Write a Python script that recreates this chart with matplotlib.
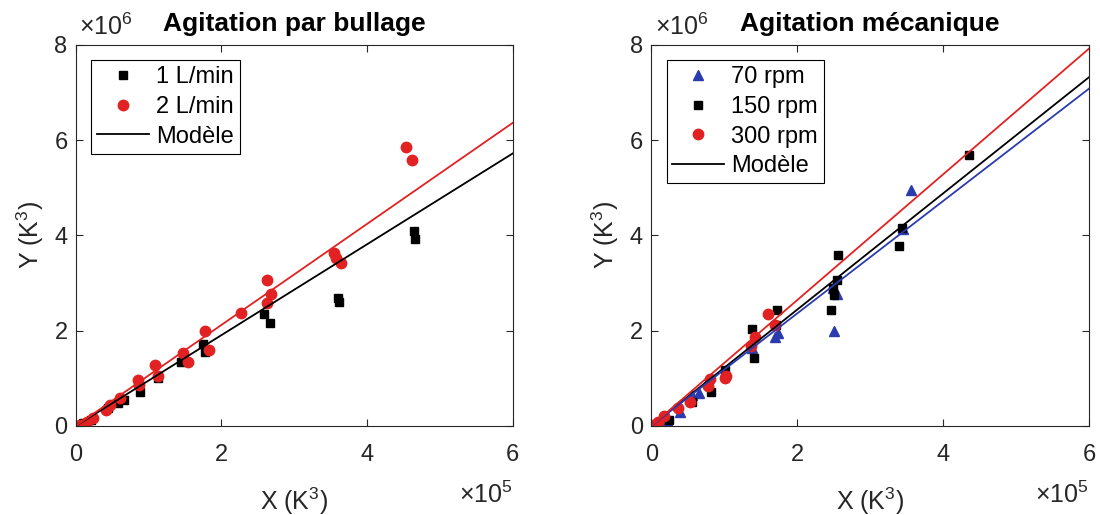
import matplotlib
matplotlib.use('Agg')
import matplotlib.pyplot as plt
import numpy as np

plt.rcParams['font.family'] = ['Liberation Sans', 'DejaVu Sans']
plt.rcParams['mathtext.fontset'] = 'custom'
plt.rcParams['mathtext.rm'] = 'Liberation Sans'
plt.rcParams['mathtext.it'] = 'Liberation Sans:italic'

# Données (X en 1e5 K^3, Y en 1e6 K^3)
# Agitation par bullage
x_1l = [4.65, 4.66, 3.60, 3.62, 2.59, 2.67, 1.75, 1.77, 1.47, 1.45, 1.13, 0.88,
        0.66, 0.58, 0.44, 0.21, 0.10, 0.03]
y_1l = [4.09, 3.92, 2.69, 2.60, 2.34, 2.15, 1.71, 1.56, 1.49, 1.35, 1.00, 0.72,
        0.55, 0.49, 0.37, 0.13, 0.06, 0.01]
x_2l = [4.53, 4.62, 3.54, 3.58, 3.64, 2.62, 2.68, 2.62, 2.27, 1.77, 1.83, 1.47,
        1.54, 1.08, 1.13, 0.86, 0.87, 0.60, 0.47, 0.42, 0.24, 0.15, 0.05]
y_2l = [5.86, 5.58, 3.64, 3.53, 3.42, 3.06, 2.76, 2.58, 2.36, 2.00, 1.60, 1.53,
        1.35, 1.28, 1.04, 0.97, 0.86, 0.58, 0.44, 0.34, 0.16, 0.09, 0.02]
pente_1l = 9.53
pente_2l = 10.6

# Agitation mécanique
x_70 = [3.56, 3.45, 2.50, 2.54, 2.49, 1.69, 1.74, 1.38, 1.01, 0.65, 0.56, 0.40,
        0.21, 0.10]
y_70 = [4.95, 4.13, 2.00, 2.76, 2.90, 1.86, 1.95, 1.64, 1.14, 0.69, 0.65, 0.30,
        0.13, 0.06]
x_150 = [4.36, 3.44, 3.39, 2.56, 2.55, 2.49, 2.51, 2.47, 1.73, 1.71, 1.38, 1.41,
         1.01, 0.82, 0.56, 0.24, 0.05]
y_150 = [5.69, 4.16, 3.78, 3.58, 3.07, 2.90, 2.74, 2.43, 2.43, 2.11, 2.04, 1.42,
         1.18, 0.72, 0.51, 0.13, 0.02]
x_300 = [1.60, 1.69, 1.42, 1.37, 1.03, 1.01, 0.81, 0.78, 0.53, 0.37, 0.17, 0.10, 0.03]
y_300 = [2.35, 2.11, 1.86, 1.68, 1.04, 1.00, 0.98, 0.83, 0.51, 0.37, 0.20, 0.09, 0.02]
pente_70 = 11.8
pente_150 = 12.2
pente_300 = 13.2

rouge = '#E22222'
bleu = '#2B3BAE'
gris = '#262626'

fig = plt.figure(figsize=(11, 5.15), dpi=100)
ax1 = fig.add_axes([0.069, 0.173, 0.397, 0.740])
ax2 = fig.add_axes([0.592, 0.173, 0.398, 0.740])

xfit = np.linspace(0, 6e5, 2)


def habillage(ax, titre):
    ax.set_xlim(0, 6e5)
    ax.set_ylim(0, 8e6)
    ax.set_xticks([0, 2e5, 4e5, 6e5])
    ax.set_xticklabels(['0', '2', '4', '6'])
    ax.set_yticks([0, 2e6, 4e6, 6e6, 8e6])
    ax.set_yticklabels(['0', '2', '4', '6', '8'])
    ax.tick_params(direction='in', top=True, right=True, labelsize=17, length=5,
                   width=0.8, colors=gris)
    ax.tick_params(axis='x', pad=13)
    ax.tick_params(axis='y', pad=6)
    for s in ax.spines.values():
        s.set_color(gris)
        s.set_linewidth(0.8)
    ax.set_xlabel('X (K$^3$)', fontsize=18, color=gris, labelpad=14)
    ax.set_ylabel('Y (K$^3$)', fontsize=18, color=gris, labelpad=6)
    ax.set_title(titre, fontsize=19, fontweight='bold', pad=10)
    ax.text(0.008, 1.012, r'$\times10^6$', transform=ax.transAxes, fontsize=18,
            color=gris, ha='left', va='bottom')
    ax.text(1.0, -0.202, r'$\times10^5$', transform=ax.transAxes, fontsize=18,
            color=gris, ha='right', va='baseline')


def legende(ax):
    leg = ax.legend(loc='upper left', fontsize=17, fancybox=False, edgecolor='k',
                    framealpha=1, handlelength=2.2, handletextpad=0.3,
                    borderaxespad=0.65, labelspacing=0.33, borderpad=0.25)
    leg.get_frame().set_linewidth(0.8)


# Agitation par bullage
ax1.plot(np.array(x_1l) * 1e5, np.array(y_1l) * 1e6, 's', color='k', ms=6,
         label='1 L/min')
ax1.plot(np.array(x_2l) * 1e5, np.array(y_2l) * 1e6, 'o', color=rouge, ms=7.5,
         label='2 L/min')
ax1.plot(xfit, pente_1l * xfit, 'k', lw=1.3, label='Modèle')
ax1.plot(xfit, pente_2l * xfit, color=rouge, lw=1.3)
habillage(ax1, 'Agitation par bullage')
legende(ax1)

# Agitation mécanique
ax2.plot(np.array(x_70) * 1e5, np.array(y_70) * 1e6, '^', color=bleu, ms=6.5,
         label='70 rpm')
ax2.plot(np.array(x_150) * 1e5, np.array(y_150) * 1e6, 's', color='k', ms=6,
         label='150 rpm')
ax2.plot(np.array(x_300) * 1e5, np.array(y_300) * 1e6, 'o', color=rouge, ms=7.5,
         label='300 rpm')
ax2.plot(xfit, pente_150 * xfit, 'k', lw=1.3, label='Modèle')
ax2.plot(xfit, pente_70 * xfit, color=bleu, lw=1.3)
ax2.plot(xfit, pente_300 * xfit, color=rouge, lw=1.3)
habillage(ax2, 'Agitation mécanique')
legende(ax2)

plt.savefig('out.png', dpi=100)
